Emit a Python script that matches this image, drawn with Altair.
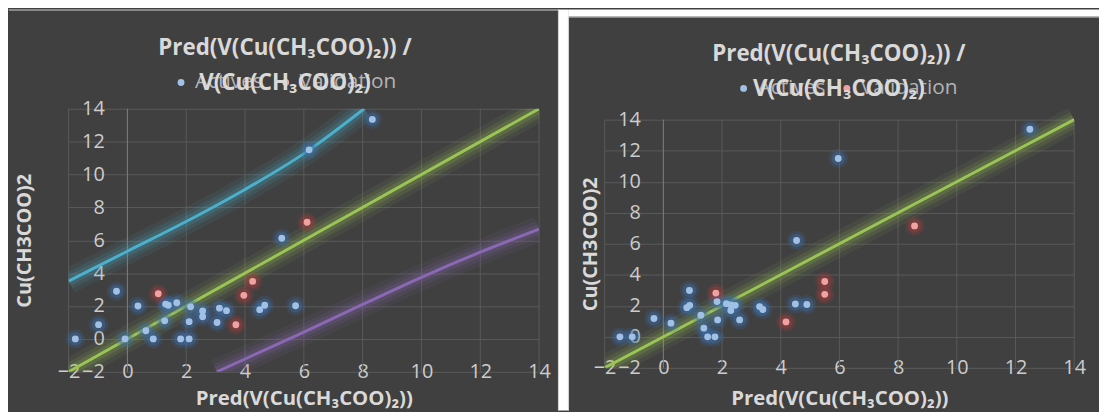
import altair as alt
import pandas as pd

# ---------------- data ----------------
SERIES = ["Actives", "Validation"]

# left panel
L_ACT_X = [-1.77, -0.98, -0.37, -0.08, 0.36, 0.63, 0.88, 1.27, 1.30, 1.39, 1.68, 1.81, 2.10,
           2.10, 2.15, 2.56, 2.56, 3.05, 3.13, 3.37, 4.50, 4.67, 5.25, 5.72, 6.18, 8.33]
L_ACT_Y = [0.0, 0.87, 2.90, 0.0, 2.00, 0.50, 0.0, 1.10, 2.12, 2.05, 2.20, 0.0, 0.0,
           1.05, 1.95, 1.70, 1.35, 1.00, 1.87, 1.72, 1.78, 2.05, 6.12, 2.02, 11.50, 13.35]
L_VAL_X = [1.05, 3.96, 4.26, 3.69, 6.11]
L_VAL_Y = [2.75, 2.65, 3.50, 0.86, 7.10]

FIT_X = [-2, 14]
FIT_Y = [-2, 14]
UP_X = [-2, 0, 2, 4, 6, 8.05]
UP_Y = [3.52, 5.33, 7.14, 9.09, 11.27, 14.0]
LO_X = [3.04, 4, 6, 8, 10, 12, 14]
LO_Y = [-2.0, -1.22, 0.42, 2.10, 3.75, 5.28, 6.68]

# right panel
R_ACT_X = [-1.48, -1.06, -0.32, 0.26, 0.89, 0.80, 0.90, 1.28, 1.38, 1.51, 1.76, 1.85, 1.83,
           2.15, 2.30, 2.45, 2.30, 2.60, 3.28, 3.39, 4.50, 4.89, 4.54, 5.96, 12.49]
R_ACT_Y = [0.0, 0.0, 1.18, 0.88, 2.99, 1.88, 2.03, 1.39, 0.56, 0.0, 0.0, 1.09, 2.27,
           2.14, 2.05, 2.03, 1.70, 1.09, 1.95, 1.76, 2.12, 2.08, 6.21, 11.50, 13.38]
R_VAL_X = [1.79, 4.18, 5.50, 5.50, 8.56]
R_VAL_Y = [2.82, 0.96, 3.57, 2.74, 7.15]

TICKS = [-2, 0, 2, 4, 6, 8, 10, 12, 14]
TITLE = "Pred(V(Cu(CH₃COO)₂)) /\nV(Cu(CH₃COO)₂)"
X_TITLE = "Pred(V(Cu(CH₃COO)₂))"
Y_TITLE = "Cu(CH3COO)2"

# ---------------- styles ----------------
FONT = "Open Sans"
BG = "#404040"
GRID = "#5a5a5a"
AXIS0 = "#808080"
TXT = "#d9d9d9"
TICK_TXT = "#cccccc"
LEG_TXT = "#b3b3b3"
BLUE = "#a0c0e6"
RED = "#f0a2a2"
BLUE_GLOW = "#3d6fa8"
RED_GLOW = "#a83c3c"
GREEN = "#9bc455"
CYAN = "#4bb0cc"
PURPLE = "#8a68b4"

one = pd.DataFrame({"k": [0]})


def rect(x1, x2, y1, y2, color):
    return alt.Chart(one).mark_rect(color=color, strokeWidth=0).encode(
        x=alt.value(x1), x2=alt.value(x2), y=alt.value(y1), y2=alt.value(y2))


def panel(ax, ay, vx, vy, lines, w, h, yrange, legpos, titlexy, ytx, yty, xty, decor):
    xs = alt.Scale(domain=[-2, 14], nice=False, zero=False)
    ys = alt.Scale(domain=[-2, 14], nice=False, zero=False, range=yrange)
    xaxis = alt.Axis(values=TICKS, grid=False, domain=False, ticks=False, tickSize=0,
                     labelPadding=0, labelBaseline="middle", labelFlush=False,
                     labelOverlap=False, labelFont=FONT, labelFontSize=20,
                     labelColor=TICK_TXT, title=X_TITLE, titleFont=FONT,
                     titleFontSize=20.5, titleFontWeight="bold", titleColor=TXT,
                     titleY=xty, titleX=w / 2, titleAlign="center",
                     titleBaseline="middle")
    yaxis = alt.Axis(values=TICKS, grid=True, gridColor=GRID, gridWidth=1,
                     domain=False, ticks=False, tickSize=0, labelPadding=-36,
                     labelBaseline="middle", labelFlush=False, labelOverlap=False,
                     labelFont=FONT, labelFontSize=20, labelColor=TICK_TXT,
                     title=Y_TITLE, titleFont=FONT, titleFontSize=20,
                     titleFontWeight="bold", titleColor=TXT, titleAngle=270,
                     titleX=ytx, titleY=yty, titleAlign="center",
                     titleBaseline="middle")
    X = lambda: alt.X("x:Q", scale=xs, axis=xaxis)
    Y = lambda: alt.Y("y:Q", scale=ys, axis=yaxis)
    cscale = alt.Scale(domain=SERIES, range=[BLUE, RED])

    layers = [rect(*d) for d in decor]

    grid = pd.DataFrame({"x": TICKS})
    layers.append(alt.Chart(grid).mark_rule(strokeWidth=1).encode(
        x=X(), y=alt.Y(datum=-2, scale=ys, axis=yaxis), y2=alt.Y2(datum=14),
        color=alt.condition("datum.x == 0", alt.value(AXIS0), alt.value(GRID))))

    for lx, lyv, col in lines:
        df = pd.DataFrame({"x": lx, "y": lyv})
        for sw, op in [(26, 0.08), (17, 0.12), (10, 0.17)]:
            layers.append(alt.Chart(df).mark_line(
                color=col, strokeWidth=sw, opacity=op, interpolate="monotone",
                strokeCap="butt", strokeJoin="round", clip=True).encode(x=X(), y=Y()))
        layers.append(alt.Chart(df).mark_line(
            color=col, strokeWidth=3, interpolate="monotone", strokeJoin="round",
            clip=True).encode(x=X(), y=Y()))

    dfa = pd.DataFrame({"x": ax, "y": ay, "series": SERIES[0]})
    dfv = pd.DataFrame({"x": vx, "y": vy, "series": SERIES[1]})
    for df, gc in [(dfa, BLUE_GLOW), (dfv, RED_GLOW)]:
        for sz, op in [(380, 0.2), (190, 0.38)]:
            layers.append(alt.Chart(df).mark_circle(size=sz, opacity=op, color=gc)
                          .encode(x=X(), y=Y()))
    pts = pd.concat([dfa, dfv], ignore_index=True)
    layers.append(alt.Chart(pts).mark_circle(size=48, opacity=1).encode(
        x=X(), y=Y(), color=alt.Color("series:N", scale=cscale, legend=None)))

    # legend (symbol + label per series)
    for i, name in enumerate(SERIES):
        ldf = pd.DataFrame({"series": [name]})
        sx, sy = legpos[i]
        layers.append(alt.Chart(ldf).mark_circle(size=48, opacity=1).encode(
            x=alt.value(sx), y=alt.value(sy),
            color=alt.Color("series:N", scale=cscale, legend=None)))
        layers.append(alt.Chart(ldf).mark_text(
            font=FONT, fontSize=21, color=LEG_TXT, align="left",
            baseline="middle").encode(
            text="series:N", x=alt.value(sx + 14), y=alt.value(sy)))

    tdf = pd.DataFrame({"t": [TITLE]})
    layers.append(alt.Chart(tdf).mark_text(
        font=FONT, fontSize=22.5, fontWeight="bold", color=TXT, align="center",
        baseline="middle", lineBreak="\n", lineHeight=35).encode(
        text="t:N", x=alt.value(titlexy[0]), y=alt.value(titlexy[1])))

    return alt.layer(*layers).properties(width=w, height=h)


LIGHT = "#d0d0d0"
left = panel(
    L_ACT_X, L_ACT_Y, L_VAL_X, L_VAL_Y,
    [(FIT_X, FIT_Y, GREEN), (UP_X, UP_Y, CYAN), (LO_X, LO_Y, PURPLE)],
    474, 265, [265, 0], [(113.3, -26.5), (218.7, -26.5)], (218, -61),
    -44, 132.5, 27,
    [(-61, 493, -100, -99, LIGHT), (-61, -60, -100, 304, BG)],
)
right = panel(
    R_ACT_X, R_ACT_Y, R_VAL_X, R_VAL_Y,
    [(FIT_X, FIT_Y, GREEN)],
    473, 261, [261, 11], [(140, -20.5), (244, -20.5)], (236, -55),
    -14, 136, 31,
    [(-47, -36, -100, 304, "#ffffff"), (-36, 498, -100, -93, "#ffffff"),
     (-47, -46, -100, 304, LIGHT), (-37, -36, -93, 304, LIGHT),
     (-36, 498, -93, -92, LIGHT)],
)

chart = alt.hconcat(left, right, spacing=0, padding=0).configure(
    background=BG, padding=0
).configure_view(stroke=None)

chart.save("out.html", embed_options={"renderer": "svg", "actions": False})
